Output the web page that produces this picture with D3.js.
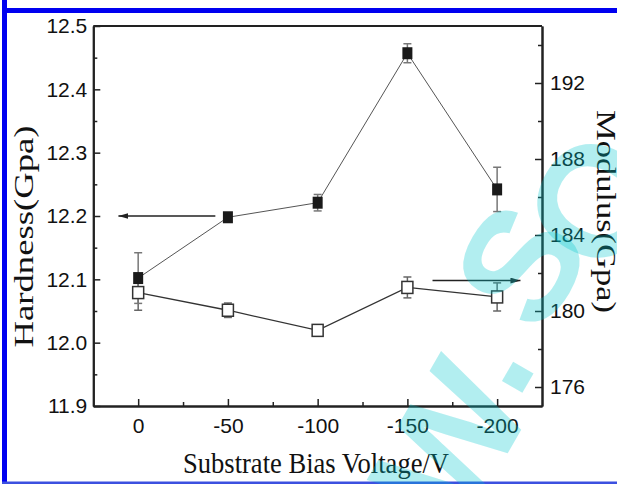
<!DOCTYPE html>
<html>
<head>
<meta charset="utf-8">
<script src="https://cdn.jsdelivr.net/npm/d3@7"></script>
<style>
  body { margin: 0; background: #fff; }
  svg { display: block; }
  .tick text { font-family: "Liberation Sans", Arial, sans-serif; font-size: 21px; fill: #111; }
  .axis path, .axis line { stroke: #222; }
  .title { font-family: "Liberation Serif", "Times New Roman", serif; fill: #111; }
</style>
</head>
<body>
<div id="container"></div>
<script>
// data
var volts = [0, -50, -100, -150, -200];
var hardness = [12.102, 12.198, 12.221, 12.457, 12.242];
var hardnessErr = [0.040, 0.004, 0.013, 0.015, 0.035];
var modulus = [180.97, 180.04, 178.98, 181.24, 180.74];
var modulusErr = [0.93, 0.38, 0.05, 0.55, 0.74];

var xTicks = [0, -50, -100, -150, -200];
var xMinor = [-25, -75, -125, -175];
var hTicks = [11.9, 12.0, 12.1, 12.2, 12.3, 12.4, 12.5];
var hMinor = [11.95, 12.05, 12.15, 12.25, 12.35, 12.45];
var mTicks = [176, 180, 184, 188, 192];
var mMinor = [178, 182, 186, 190, 194];

var W = 617, H = 484;
var margin = {top: 26, right: 75, bottom: 78, left: 93.3},
    width = 542 - margin.left,
    height = 406 - margin.top;

var svg = d3.select("#container").append("svg")
    .attr("width", W)
    .attr("height", H);

// frame of the page (blue border)
svg.append("rect").attr("x", 2).attr("y", 0).attr("width", 5).attr("height", H).attr("fill", "#0000f0");
svg.append("rect").attr("x", 2).attr("y", 8).attr("width", W).attr("height", 5).attr("fill", "#0000f0");
svg.append("rect").attr("x", 2).attr("y", 481.5).attr("width", W).attr("height", 2.5).attr("fill", "#3c50e0");

var g = svg.append("g")
    .attr("transform", "translate(" + margin.left + "," + margin.top + ")");

var x = d3.scaleLinear().domain([25, -225]).range([0, width]);
var yL = d3.scaleLinear().domain([11.9, 12.5]).range([height, 0]);
var yR = d3.scaleLinear().domain([175, 195]).range([height, 0]);

// axes
g.append("g").attr("class", "axis")
    .attr("transform", "translate(0," + height + ")")
    .call(d3.axisBottom(x).tickValues(xTicks).tickSizeInner(-7).tickSizeOuter(0).tickPadding(12)
        .tickFormat(function(d) { return d === 0 ? "0" : "-" + Math.abs(d); }));
g.append("g").attr("class", "axis")
    .attr("transform", "translate(0," + height + ")")
    .call(d3.axisBottom(x).tickValues(xMinor).tickSizeInner(-4).tickSizeOuter(0).tickFormat(""));

g.append("g").attr("class", "axis")
    .call(d3.axisLeft(yL).tickValues(hTicks).tickSizeInner(-7).tickSizeOuter(0).tickPadding(6)
        .tickFormat(d3.format(".1f")));
g.append("g").attr("class", "axis")
    .call(d3.axisLeft(yL).tickValues(hMinor).tickSizeInner(-4).tickSizeOuter(0).tickFormat(""));

g.append("g").attr("class", "axis")
    .attr("transform", "translate(" + width + ",0)")
    .call(d3.axisRight(yR).tickValues(mTicks).tickSizeInner(-7).tickSizeOuter(0).tickPadding(8));
g.append("g").attr("class", "axis")
    .attr("transform", "translate(" + width + ",0)")
    .call(d3.axisRight(yR).tickValues(mMinor).tickSizeInner(-4).tickSizeOuter(0).tickFormat(""));

g.selectAll(".axis path").attr("stroke-width", 2);
g.selectAll(".axis line").attr("stroke-width", 1.5);

// top edge of the frame
g.append("line").attr("x1", 0).attr("x2", width).attr("y1", 0).attr("y2", 0)
    .attr("stroke", "#222").attr("stroke-width", 2);

var pts = volts.map(function(v, i) {
    return {v: v, h: hardness[i], he: hardnessErr[i], m: modulus[i], me: modulusErr[i]};
});

// connecting lines
g.append("path").datum(pts)
    .attr("fill", "none").attr("stroke", "#555").attr("stroke-width", 1)
    .attr("d", d3.line().x(function(d) { return x(d.v); }).y(function(d) { return yL(d.h); }));
g.append("path").datum(pts)
    .attr("fill", "none").attr("stroke", "#333").attr("stroke-width", 1.3)
    .attr("d", d3.line().x(function(d) { return x(d.v); }).y(function(d) { return yR(d.m); }));

// error bars
function errBars(sel, y, key, err, color) {
    var e = sel.selectAll(null).data(pts).enter().append("g")
        .attr("stroke", color).attr("stroke-width", 1.5);
    e.append("line")
        .attr("x1", function(d) { return x(d.v); }).attr("x2", function(d) { return x(d.v); })
        .attr("y1", function(d) { return y(d[key] - d[err]); })
        .attr("y2", function(d) { return y(d[key] + d[err]); });
    [-1, 1].forEach(function(s) {
        e.append("line")
            .attr("x1", function(d) { return x(d.v) - 4; }).attr("x2", function(d) { return x(d.v) + 4; })
            .attr("y1", function(d) { return y(d[key] + s * d[err]); })
            .attr("y2", function(d) { return y(d[key] + s * d[err]); });
    });
}
errBars(g, yR, "m", "me", "#666");
errBars(g, yL, "h", "he", "#777");

// squares
g.selectAll(".open").data(pts).enter().append("rect")
    .attr("class", "open")
    .attr("x", function(d) { return x(d.v) - 5.5; })
    .attr("y", function(d) { return yR(d.m) - 6; })
    .attr("width", 11).attr("height", 12)
    .attr("fill", "#fff").attr("stroke", "#333").attr("stroke-width", 1.5);
g.selectAll(".filled").data(pts).enter().append("rect")
    .attr("class", "filled")
    .attr("x", function(d) { return x(d.v) - 5; })
    .attr("y", function(d) { return yL(d.h) - 6; })
    .attr("width", 10).attr("height", 12)
    .attr("fill", "#1a1a1a");

// arrows pointing at the axes
svg.append("defs").append("marker")
    .attr("id", "arrow").attr("viewBox", "0 0 10 6")
    .attr("refX", 10).attr("refY", 3)
    .attr("markerWidth", 10).attr("markerHeight", 6)
    .attr("markerUnits", "userSpaceOnUse")
    .attr("orient", "auto")
    .append("path").attr("d", "M0,0L10,3L0,6Z").attr("fill", "#222");

g.append("line")
    .attr("x1", x(-43)).attr("x2", x(11))
    .attr("y1", yL(12.2)).attr("y2", yL(12.2))
    .attr("stroke", "#222").attr("stroke-width", 1.5).attr("marker-end", "url(#arrow)");
g.append("line")
    .attr("x1", x(-164)).attr("x2", x(-213))
    .attr("y1", yR(181.6)).attr("y2", yR(181.6))
    .attr("stroke", "#222").attr("stroke-width", 1.5).attr("marker-end", "url(#arrow)");

// axis titles
svg.append("text").attr("class", "title")
    .attr("x", 316).attr("y", 472.7)
    .attr("text-anchor", "middle")
    .attr("font-size", 30)
    .attr("textLength", 266).attr("lengthAdjust", "spacingAndGlyphs")
    .text("Substrate Bias Voltage/V");

svg.append("text").attr("class", "title")
    .attr("transform", "translate(33.3,236.5) rotate(-90)")
    .attr("text-anchor", "middle")
    .attr("font-size", 27)
    .attr("textLength", 222).attr("lengthAdjust", "spacingAndGlyphs")
    .text("Hardness(Gpa)");

svg.append("text").attr("class", "title")
    .attr("transform", "translate(596.7,211.5) rotate(90)")
    .attr("text-anchor", "middle")
    .attr("font-size", 27)
    .attr("textLength", 203).attr("lengthAdjust", "spacingAndGlyphs")
    .text("Modulus(Gpa)");

// watermark
var wm = [["W", 498, 470], [".", 528, 383], ["S", 568, 292], ["O", 642, 228]];
svg.append("g").selectAll("text").data(wm).enter().append("text")
    .attr("transform", function(d) { return "translate(" + d[1] + "," + d[2] + ") rotate(-60)"; })
    .attr("text-anchor", "middle")
    .attr("font-family", "Liberation Sans, sans-serif")
    .attr("font-weight", "bold")
    .attr("font-size", 158)
    .attr("fill", "rgb(0,200,205)")
    .attr("fill-opacity", 0.3)
    .text(function(d) { return d[0]; });
</script>
</body>
</html>
